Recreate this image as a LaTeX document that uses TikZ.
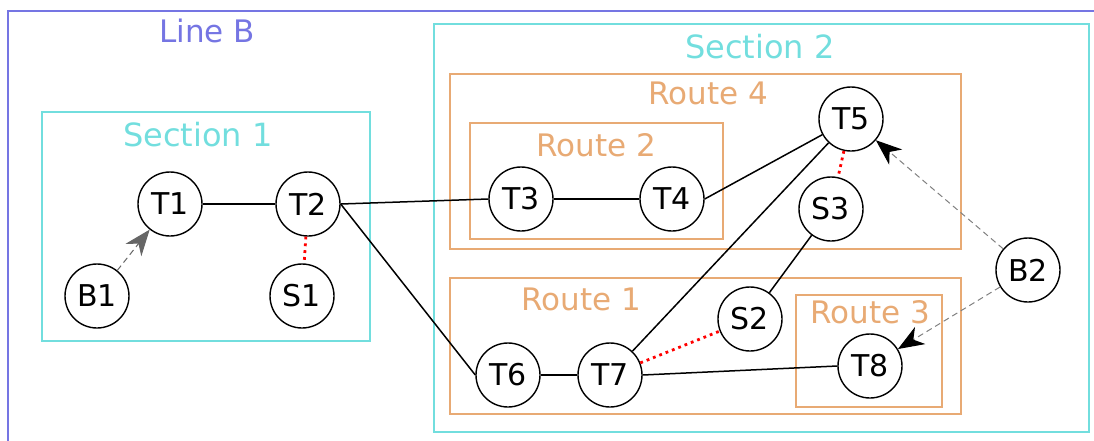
\documentclass[tikz,border=0pt]{standalone}
\usepackage{fontspec}
\setmainfont{DejaVu Sans}
\usetikzlibrary{arrows.meta}

\definecolor{lineblue}{HTML}{7575E3}
\definecolor{sectcyan}{HTML}{72DEDE}
\definecolor{routeorange}{HTML}{E8AA74}

\tikzset{
  station/.style={circle, draw, line width=0.7pt, minimum size=32pt, inner sep=0pt, font=\fontsize{15}{18}\selectfont},
  sectionbox/.style={draw=sectcyan, line width=1pt},
  routebox/.style={draw=routeorange, line width=1pt},
  sectionlabel/.style={text=sectcyan, font=\fontsize{16}{19}\selectfont},
  routelabel/.style={text=routeorange, font=\fontsize{15.5}{18}\selectfont},
  link/.style={line width=0.75pt},
  transfer/.style={red, dotted, line width=1.4pt},
  feed/.style={gray, dash pattern=on 3pt off 2pt, line width=0.5pt},
}

\begin{document}
\begin{tikzpicture}[x=0.5pt, y=-0.5pt]

  \useasboundingbox (0,0) rectangle (1094,440);
  \clip (0,0) rectangle (1094,440);

  % Line B frame
  \draw[lineblue, line width=1pt] (8,11) rectangle (1110,460);
  \node[text=lineblue, font=\fontsize{15.5}{18}\selectfont] (lineB) at (207,31) {Line B};

  % Sections
  \draw[sectionbox] (42,112) rectangle (370,341);
  \node[sectionlabel] (sec1) at (198,135) {Section 1};
  \draw[sectionbox] (434,24) rectangle (1089,432);
  \node[sectionlabel] (sec2) at (760,47) {Section 2};

  % Routes
  \draw[routebox] (450,74) rectangle (961,249);
  \node[routelabel] (route4) at (708,93) {Route 4};
  \draw[routebox] (470,123) rectangle (723,239);
  \node[routelabel] (route2) at (596,145) {Route 2};
  \draw[routebox] (450,278) rectangle (961,414);
  \node[routelabel] (route1) at (581,299) {Route 1};
  \draw[routebox] (796,295) rectangle (942,407);
  \node[routelabel] (route3) at (870,312) {Route 3};

  % Stations
  \node[station] (T1) at (170,204) {T1};
  \node[station] (T2) at (308,204) {T2};
  \node[station] (S1) at (302,296) {S1};
  \node[station] (B1) at (97,296) {B1};
  \node[station] (T3) at (521,199) {T3};
  \node[station] (T4) at (672,199) {T4};
  \node[station] (T5) at (851,119) {T5};
  \node[station] (S3) at (831,209) {S3};
  \node[station] (S2) at (750,319) {S2};
  \node[station] (T6) at (508,375) {T6};
  \node[station] (T7) at (610,375) {T7};
  \node[station] (T8) at (870,366) {T8};
  \node[station] (B2) at (1028,270) {B2};

  % Track links
  \draw[link] (T1) -- (T2);
  \draw[link] (T2.east) -- (T3.west);
  \draw[link] (T2.east) -- (T6.west);
  \draw[link] (T3) -- (T4);
  \draw[link] (T4.east) -- (T5);
  \draw[link] (T5) -- (T7);
  \draw[link] (S3) -- (S2);
  \draw[link] (T6) -- (T7);
  \draw[link] (T7.east) -- (T8.west);

  % Transfers
  \draw[transfer] (T2) -- (S1);
  \draw[transfer] (T5) -- (S3);
  \draw[transfer] (T7) -- (S2);

  % Feeders
  \draw[feed, black!60, -{Stealth[length=13pt, width=10pt, inset=4pt]}] (B1) -- (T1);
  \draw[feed, -{Stealth[length=13pt, width=10pt, inset=4pt, black]}] (B2) -- (T5);
  \draw[feed, -{Stealth[length=13pt, width=10pt, inset=4pt, black]}] (B2) -- (T8);

\end{tikzpicture}
\end{document}
